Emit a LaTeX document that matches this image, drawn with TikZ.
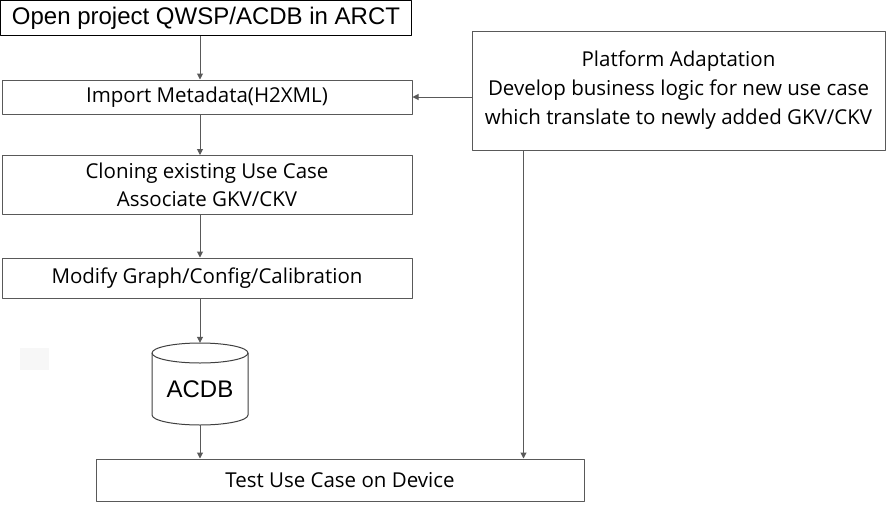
\documentclass[tikz,border=0pt]{standalone}
\usepackage{fontspec}
\setmainfont{Open Sans}
\newfontfamily\arialfont{Liberation Sans}
\usetikzlibrary{arrows.meta}

\begin{document}
\begin{tikzpicture}[x=1pt,y=-1pt,line join=round,
    stepbox/.style={draw=black!65, line width=1pt, fill=white, inner sep=0pt, align=center,
      font=\fontsize{20.5}{27.5}\selectfont},
    link/.style={draw=black!65, line width=1pt, -{Triangle[width=6pt,length=6pt]}}]
  \useasboundingbox (0,0) rectangle (887,504);
  \fill[black!3] (20,348) rectangle (49,370);

  % left column
  \node[stepbox, draw=black, line width=1.4pt, minimum width=411pt, minimum height=35pt,
    font=\arialfont\fontsize{24}{28}\selectfont] (open) at (206,18) {Open project QWSP/ACDB in ARCT};
  \node[stepbox, minimum width=410pt, minimum height=34pt] (import) at (207,97) {Import Metadata(H2XML)};
  \node[stepbox, minimum width=410pt, minimum height=59pt] (clone) at (207,185) {Cloning existing Use Case\\Associate GKV/CKV};
  \node[stepbox, minimum width=410pt, minimum height=40pt] (modify) at (207,278) {Modify Graph/Config/Calibration};

  % database
  \node[minimum width=96pt, minimum height=82pt, inner sep=0pt] (acdb) at (200,384) {};
  \draw[black!75, line width=1pt, fill=white] (152,353) -- (152,415) arc (180:0:48 and 10) -- (248,353) arc (0:-180:48 and 10) -- cycle;
  \draw[black!75, line width=1pt] (152,353) arc (180:0:48 and 10);
  \node[font=\arialfont\fontsize{24}{28}\selectfont] at (200,389) {ACDB};

  \node[stepbox, minimum width=488pt, minimum height=42pt] (test) at (340,480) {Test Use Case on Device};

  % right box
  \node[stepbox, minimum width=413pt, minimum height=119pt, font=\fontsize{20.5}{29}\selectfont] (platform) at (678.5,90.5)
    {Platform Adaptation\\Develop business logic for new use case\\which translate to newly added GKV/CKV};

  \draw[link] (open.south -| acdb.center) -- (import.north -| acdb.center);
  \draw[link] (import.south -| acdb.center) -- (clone.north -| acdb.center);
  \draw[link] (clone.south -| acdb.center) -- (modify.north -| acdb.center);
  \draw[link] (modify.south -| acdb.center) -- (acdb.north);
  \draw[link] (acdb.south) -- (test.north -| acdb.center);
  \draw[link] (import -| platform.west) -- (import.east);
  \draw[link] ([xshift=52pt]platform.south west) -- ([xshift=52pt]platform.south west |- test.north);
\end{tikzpicture}
\end{document}
